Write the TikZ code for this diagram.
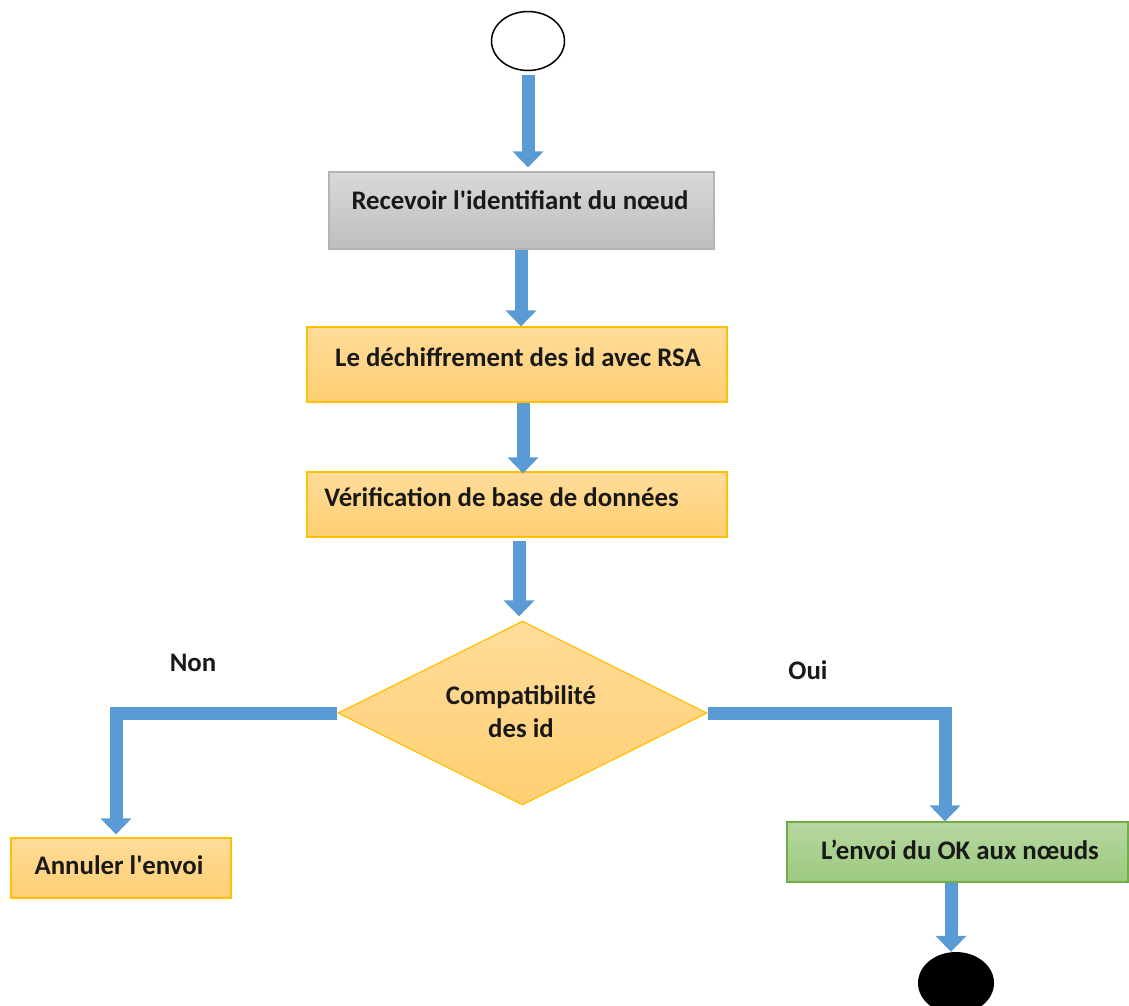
\documentclass[tikz,border=0pt]{standalone}
\usepackage{fontspec}
\setmainfont{Carlito}
\usetikzlibrary{arrows.meta,shapes.geometric}
\definecolor{flowblue}{HTML}{5B9BD5}
\definecolor{orangetop}{HTML}{FFDC9A}
\definecolor{orangebot}{HTML}{FFCF72}
\definecolor{orangeline}{HTML}{FFC000}
\definecolor{graytop}{HTML}{D9D9D9}
\definecolor{graybot}{HTML}{BEBEBE}
\definecolor{grayline}{HTML}{B4B4B4}
\definecolor{greentop}{HTML}{B6D7A1}
\definecolor{greenbot}{HTML}{9CC97E}
\definecolor{greenline}{HTML}{70AD47}
\begin{document}
\begin{tikzpicture}[x=1pt,y=-1pt,
  every node/.style={font=\fontsize{26.8}{33}\selectfont\bfseries, text=black!90},
  box/.style={rectangle, inner sep=0pt, line width=1.2pt},
  orangebox/.style={box, draw=orangeline, top color=orangetop, bottom color=orangebot},
  graybox/.style={box, draw=grayline, top color=graytop, bottom color=graybot},
  greenbox/.style={box, draw=greenline, top color=greentop, bottom color=greenbot},
  txt/.style={inner sep=0pt, align=center},
  flow/.style={draw=flowblue, line width=13pt, line join=miter,
    -{Triangle[width=30pt,length=16pt]}}]
\useasboundingbox (0,0) rectangle (1129,1005);

% start and end states
\node[ellipse, draw=black, line width=1.5pt, fill=white,
  minimum width=73pt, minimum height=59pt, inner sep=0pt] (start) at (528,41) {};
\node[ellipse, fill=black, minimum width=76pt, minimum height=62pt,
  inner sep=0pt] (stop) at (956,983) {};

% activities
\node[graybox, minimum width=385pt, minimum height=77pt] (recv) at (521.5,210.5) {};
\node[txt] (recvtxt) at (520,200) {Recevoir l\textquotesingle identifiant du nœud};

\node[orangebox, minimum width=420pt, minimum height=75pt] (dech) at (517,364.5) {};
\node[txt] (dechtxt) at (518,357) {Le déchiffrement des id avec RSA};

\node[orangebox, minimum width=420pt, minimum height=65pt] (verif) at (517,504.5) {};
\node[txt] (veriftxt) at (501.5,497) {Vérification de base de données};

\node[diamond, draw=orangeline, line width=1.2pt, top color=orangetop,
  bottom color=orangebot, minimum width=369pt, minimum height=184pt,
  inner sep=0pt] (dia) at (522.5,713) {};
\node[txt] (diatxt) at (521,712) {Compatibilité\\des id};

\node[orangebox, minimum width=220pt, minimum height=60pt] (annul) at (121,868) {};
\node[txt] (annultxt) at (119,865) {Annuler l\textquotesingle envoi};

\node[greenbox, minimum width=341pt, minimum height=60pt] (ok) at (957.5,852) {};
\node[txt] (oktxt) at (960,850) {L’envoi du OK aux nœuds};

% branch labels
\node[txt] (non) at (193,663) {Non};
\node[txt] (oui) at (808,670) {Oui};

% connectors
\draw[flow, shorten <=4pt, shorten >=4pt] (start.south) -- (start.south |- recv.north);
\draw[flow] ([xshift=-0.5pt]recv.south) -- ([xshift=4pt]dech.north);
\draw[flow, shorten >=-2pt] ([xshift=6pt]dech.south) -- ([xshift=6pt]verif.north);
\draw[flow, shorten <=3pt, shorten >=4pt] ([xshift=2pt]verif.south) -- ([xshift=-3.5pt]dia.north);
\draw[flow, shorten >=3pt] (dia.west) -| ([xshift=-5pt]annul.north);
\draw[flow] (dia.east) -| ([xshift=-12.5pt]ok.north);
\draw[flow] ([xshift=-6.5pt]ok.south) -- ([xshift=-5pt]stop.north);
\end{tikzpicture}
\end{document}
